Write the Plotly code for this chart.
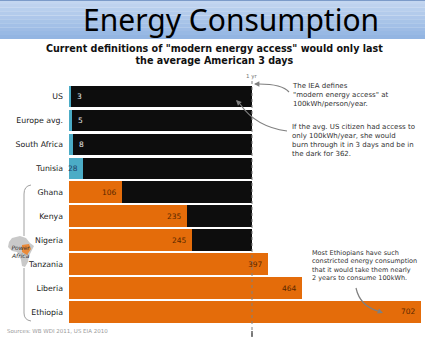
import plotly.graph_objects as go

# ---- data -------------------------------------------------------------
countries = ["US", "Europe avg.", "South Africa", "Tunisia", "Ghana",
             "Kenya", "Nigeria", "Tanzania", "Liberia", "Ethiopia"]
# days needed to consume 100 kWh at each country's average per-capita use
days = [3, 5, 8, 28, 106, 235, 245, 397, 464, 702]
group = ["other", "other", "other", "other", "africa",
         "africa", "africa", "africa", "africa", "africa"]
days_in_year = 365

W, H = 425, 340
TEAL, ORANGE, DARK = "#4bacc6", "#e46c0a", "#0d0d0d"
FONT = "DejaVu Sans"


def px(x):
    return x / W


def py(y):
    return 1 - y / H


bar_colors = [TEAL if g == "other" else ORANGE for g in group]
remainder = [max(days_in_year - d, 0) for d in days]

fig = go.Figure()
fig.add_trace(go.Bar(
    y=countries, x=days, orientation="h",
    marker=dict(color=bar_colors, line=dict(width=0)),
    width=0.9, hoverinfo="skip",
))
fig.add_trace(go.Bar(
    y=countries, x=remainder, orientation="h",
    marker=dict(color=DARK, line=dict(width=0)),
    width=0.9, hoverinfo="skip",
))

shapes = []
annotations = []

# title band with a soft vertical gradient
top_c = (0xc3, 0xd6, 0xf0)
bot_c = (0x93, 0xb5, 0xe2)
n_strips = 10
for i in range(n_strips):
    t = i / (n_strips - 1)
    c = tuple(round(top_c[k] + (bot_c[k] - top_c[k]) * t) for k in range(3))
    y0 = 39 * i / n_strips
    y1 = 39 * (i + 1) / n_strips
    shapes.append(dict(type="rect", xref="paper", yref="paper",
                       x0=0, x1=1, y0=py(y1), y1=py(y0) + 0.0005,
                       fillcolor="rgb(%d,%d,%d)" % c, line=dict(width=0),
                       layer="below"))
shapes.append(dict(type="line", xref="paper", yref="paper", x0=0, x1=1,
                   y0=py(0.5), y1=py(0.5), line=dict(color="#7c9bc9", width=1)))

annotations.append(dict(text="Energy Consumption", xref="paper", yref="paper",
                        x=px(231), y=py(19.5), xanchor="center", yanchor="middle",
                        showarrow=False,
                        font=dict(family="Noto Sans", size=30, color="#000000")))

annotations.append(dict(
    text="<b>Current definitions of \"modern energy access\" would only last"
         "<br>the average American 3 days</b>",
    xref="paper", yref="paper", x=px(214), y=py(54), xanchor="center",
    yanchor="middle", showarrow=False,
    font=dict(family=FONT, size=9.6, color="#111111")))

# one-year reference line
shapes.append(dict(type="line", xref="x", yref="paper", x0=days_in_year,
                   x1=days_in_year, y0=py(336), y1=py(80),
                   line=dict(color="#808080", width=1, dash="dot")))
shapes.append(dict(type="line", xref="x", yref="paper", x0=days_in_year,
                   x1=days_in_year, y0=py(337), y1=py(331),
                   line=dict(color="#606060", width=1.5)))
annotations.append(dict(text="1 yr", xref="x", yref="paper", x=days_in_year,
                        y=py(77), showarrow=False, xanchor="center",
                        yanchor="middle",
                        font=dict(family=FONT, size=5.5, color="#777777")))

# value labels
for name, d, g in zip(countries, days, group):
    if d < 20:
        annotations.append(dict(text=str(d), x=d, y=name, xref="x", yref="y",
                                xanchor="left", xshift=4, showarrow=False,
                                font=dict(family=FONT, size=7.5, color="#e8e8e8")))
    else:
        col = "#1f3f66" if g == "other" else "#5a2800"
        annotations.append(dict(text=str(d), x=d, y=name, xref="x", yref="y",
                                xanchor="right", xshift=-3, showarrow=False,
                                font=dict(family=FONT, size=7.5, color=col)))

# commentary
note_font = dict(family=FONT, size=7.0, color="#333333")
annotations.append(dict(
    text="The IEA defines<br>\"modern energy access\" at<br>100kWh/person/year.",
    xref="paper", yref="paper", x=px(290), y=py(80), xanchor="left",
    yanchor="top", align="left", showarrow=False, font=note_font))
annotations.append(dict(
    text="If the avg. US citizen had access to<br>only 100kWh/year, she would"
         "<br>burn through it in 3 days and be in<br>the dark for 362.",
    xref="paper", yref="paper", x=px(290), y=py(121), xanchor="left",
    yanchor="top", align="left", showarrow=False, font=note_font))
annotations.append(dict(
    text="Most Ethiopians have such<br>constricted energy consumption"
         "<br>that it would take them nearly<br>2 years to consume 100kWh.",
    xref="paper", yref="paper", x=px(310), y=py(247), xanchor="left",
    yanchor="top", align="left", showarrow=False,
    font=dict(family=FONT, size=6.5, color="#333333")))


def curve(p0, c, p1):
    path = "M %f,%f Q %f,%f %f,%f" % (px(p0[0]), py(p0[1]), px(c[0]), py(c[1]),
                                      px(p1[0]), py(p1[1]))
    shapes.append(dict(type="path", xref="paper", yref="paper", path=path,
                       line=dict(color="#7f7f7f", width=1.2)))


def head(tip, dx, dy):
    annotations.append(dict(text="", xref="paper", yref="paper",
                            x=px(tip[0]), y=py(tip[1]), ax=dx, ay=dy,
                            showarrow=True, arrowhead=2, arrowsize=0.9,
                            arrowwidth=1.2, arrowcolor="#7f7f7f"))


curve((289, 92), (282, 84), (259, 84))
head((254, 84), 6, 0)
curve((287, 131), (256, 127), (240, 104))
head((236, 100), 5, 5)
curve((356, 288), (360, 306), (378, 311))
head((383, 313), -5, -2)

# "Power Africa" bracket and badge
shapes.append(dict(type="path", xref="paper", yref="paper",
                   path="M %f,%f Q %f,%f %f,%f L %f,%f" % (
                       px(31), py(185), px(24), py(186), px(24), py(194),
                       px(24), py(236)),
                   line=dict(color="#a0a0a0", width=1)))
shapes.append(dict(type="path", xref="paper", yref="paper",
                   path="M %f,%f L %f,%f Q %f,%f %f,%f" % (
                       px(24), py(268), px(24), py(313), px(24), py(320),
                       px(31), py(321)),
                   line=dict(color="#a0a0a0", width=1)))
africa = [(12, 238), (20, 236), (26, 238), (30, 243), (34, 246), (32, 250),
          (29, 256), (28, 262), (25, 267), (22, 266), (21, 260), (19, 255),
          (17, 252), (12, 251), (8, 247), (9, 242)]
path = "M " + " L ".join("%f,%f" % (px(a), py(b)) for a, b in africa) + " Z"
shapes.append(dict(type="path", xref="paper", yref="paper", path=path,
                   fillcolor="#c9c9c9", line=dict(width=0)))
patch = [(22, 245), (29, 244), (31, 249), (27, 255), (22, 252)]
path = "M " + " L ".join("%f,%f" % (px(a), py(b)) for a, b in patch) + " Z"
shapes.append(dict(type="path", xref="paper", yref="paper", path=path,
                   fillcolor="#e98a3a", line=dict(width=0)))
annotations.append(dict(text="<i>Power<br>Africa</i>", xref="paper",
                        yref="paper", x=px(20), y=py(251), xanchor="center",
                        yanchor="middle", showarrow=False,
                        font=dict(family=FONT, size=6, color="#333333")))

annotations.append(dict(text="Sources: WB WDI 2011, US EIA 2010", xref="paper",
                        yref="paper", x=px(5), y=py(331), xanchor="left",
                        yanchor="middle", showarrow=False,
                        font=dict(family=FONT, size=5.5, color="#9a9a9a")))

px_per_day = (252 - 69) / days_in_year
fig.update_layout(
    width=W, height=H, margin=dict(l=0, r=0, t=0, b=0),
    paper_bgcolor="white", plot_bgcolor="white",
    barmode="stack", bargap=0.1, showlegend=False,
    xaxis=dict(domain=[69 / W, 1], range=[0, (W - 69) / px_per_day],
               visible=False, fixedrange=True),
    yaxis=dict(type="category", categoryarray=countries,
               range=[10.171, -4.031], showgrid=False, zeroline=False,
               showline=False, ticks="", ticklabelstandoff=5,
               tickfont=dict(family=FONT, size=7.8, color="#222222")),
    shapes=shapes, annotations=annotations,
)

fig.write_html("out.html")
